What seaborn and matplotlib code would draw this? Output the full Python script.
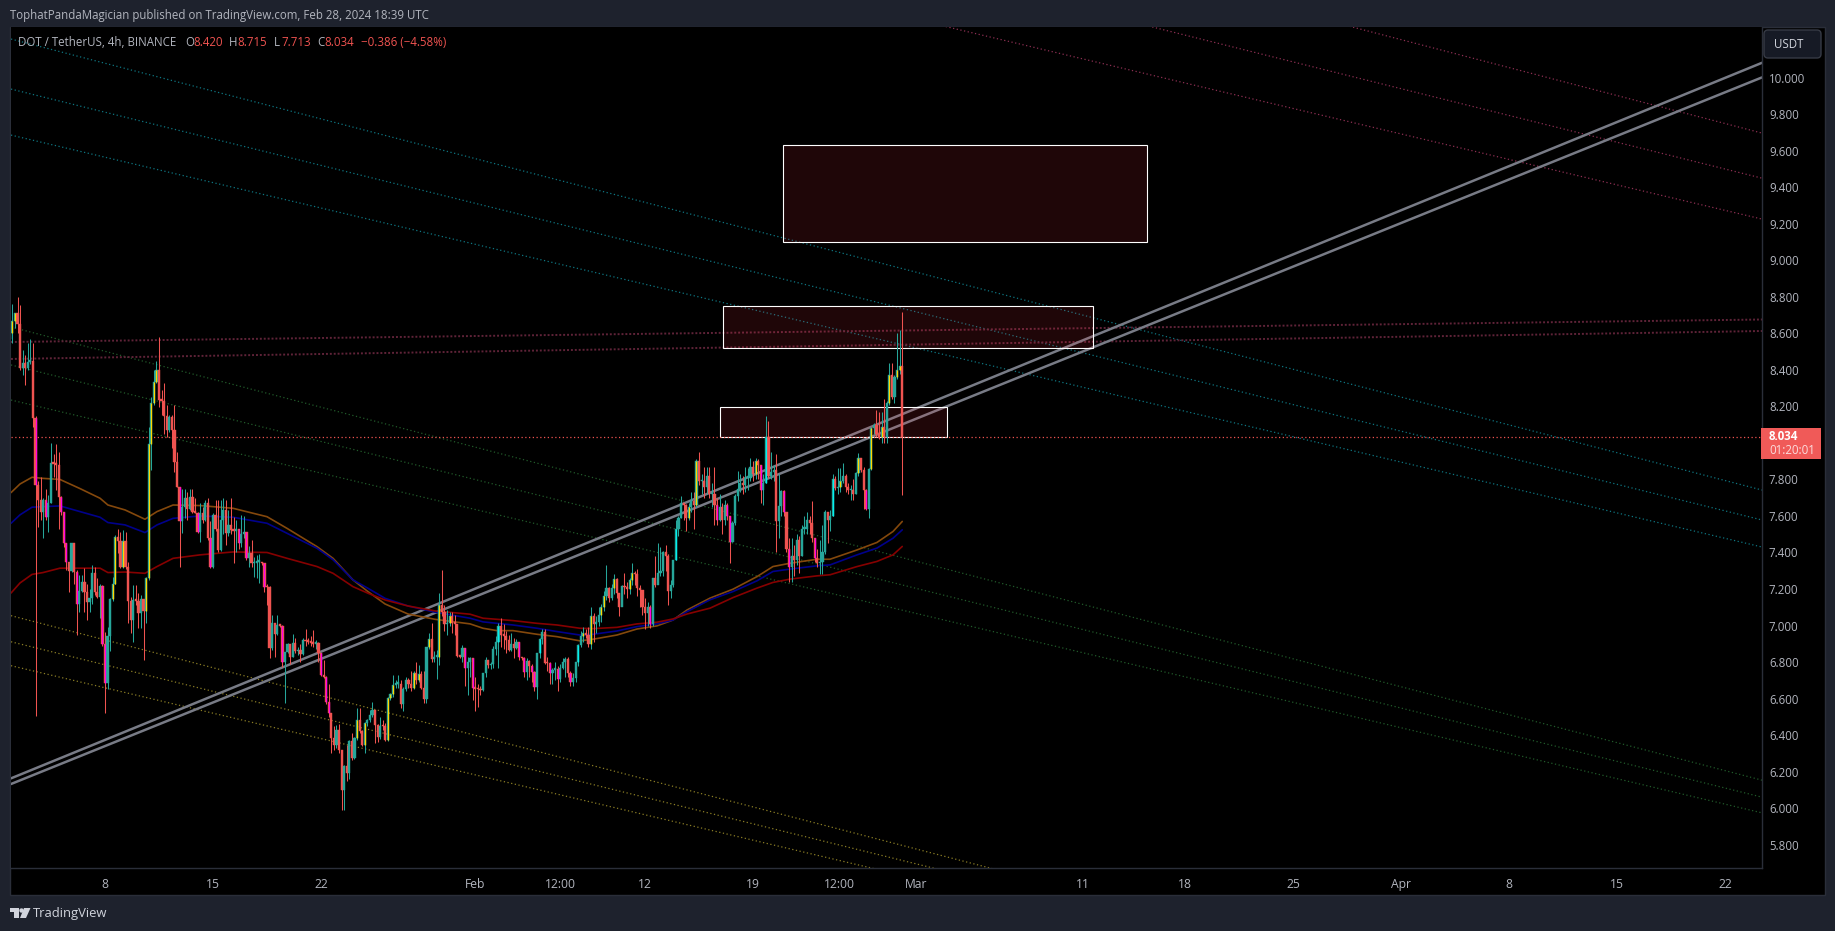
import numpy as np
import pandas as pd
import matplotlib
matplotlib.use('Agg')
import matplotlib.pyplot as plt
from matplotlib.patches import Rectangle, FancyBboxPatch, Polygon, Circle
from matplotlib.transforms import Affine2D
import seaborn as sns

# 4h candles, Jan 1 20:00 -> Feb 28 16:00 (opens follow previous close)
first_open = 8.57
closes = [
    8.60,8.67,8.71,8.65,8.41,8.44,8.41,8.445,8.45,8.135,
    7.77,7.69,7.62,7.69,7.595,7.67,7.89,7.885,7.88,7.705,
    7.62,7.45,7.35,7.30,7.45,7.295,7.12,7.19,7.24,7.185,
    7.13,7.15,7.29,7.185,7.155,7.216,6.90,6.687,6.94,7.143,
    7.23,7.487,7.465,7.32,7.463,7.32,7.136,7.03,7.14,7.136,
    7.07,7.143,7.08,7.26,7.994,8.216,8.335,8.40,8.235,8.23,
    8.147,8.07,8.144,8.07,7.897,7.76,7.57,7.651,7.696,7.64,
    7.706,7.624,7.618,7.514,7.615,7.58,7.67,7.477,7.32,7.605,
    7.53,7.414,7.58,7.633,7.505,7.55,7.523,7.52,7.53,7.45,
    7.50,7.51,7.368,7.395,7.34,7.345,7.35,7.35,7.34,7.213,
    7.21,6.875,7.016,6.954,7.003,7.0,6.80,6.857,6.9,6.83,
    6.907,6.86,6.865,6.845,6.92,6.915,6.91,6.905,6.90,6.907,
    6.85,6.73,6.72,6.583,6.52,6.383,6.343,6.43,6.32,6.10,
    6.233,6.195,6.368,6.273,6.383,6.48,6.423,6.347,6.465,6.48,
    6.51,6.535,6.455,6.39,6.45,6.447,6.374,6.602,6.624,6.675,
    6.68,6.68,6.57,6.65,6.70,6.68,6.66,6.74,6.70,6.735,
    6.66,6.596,6.88,6.927,6.815,6.83,6.83,7.113,7.076,7.007,
    7.016,7.05,7.016,7.01,6.835,6.83,6.875,6.766,6.80,6.82,
    6.657,6.655,6.65,6.645,6.739,6.81,6.784,6.79,6.87,6.91,
    7.0,6.95,6.945,6.92,6.866,6.90,6.876,6.91,6.826,6.82,
    6.744,6.806,6.78,6.745,6.666,6.848,6.925,6.967,6.797,6.793,
    6.739,6.757,6.76,6.706,6.77,6.80,6.815,6.74,6.693,6.71,
    6.80,6.894,6.94,6.96,6.95,6.90,7.05,7.01,7.02,7.058,
    7.104,7.162,7.208,7.15,7.204,7.253,7.18,7.104,7.218,7.21,
    7.20,7.25,7.286,7.28,7.204,7.195,7.10,7.07,7.10,7.007,
    7.259,7.22,7.29,7.30,7.40,7.38,7.19,7.22,7.36,7.53,
    7.59,7.67,7.66,7.59,7.65,7.68,7.66,7.90,7.79,7.79,
    7.757,7.82,7.72,7.72,7.66,7.58,7.65,7.58,7.66,7.60,
    7.46,7.56,7.71,7.745,7.78,7.77,7.81,7.81,7.87,7.83,
    7.90,7.88,7.74,7.78,8.03,7.82,7.84,7.85,7.57,7.655,
    7.735,7.62,7.42,7.32,7.38,7.36,7.47,7.38,7.53,7.53,
    7.58,7.56,7.48,7.37,7.34,7.35,7.40,7.62,7.58,7.60,
    7.80,7.752,7.76,7.79,7.82,7.76,7.74,7.74,7.72,7.835,
    7.92,7.85,7.74,7.64,7.855,8.08,8.10,8.05,8.03,8.09,
    8.03,8.22,8.37,8.25,8.36,8.40,8.42,8.034,
]
highs = [
    8.61,8.76,8.71,8.80,8.755,8.51,8.48,8.55,8.57,8.55,
    8.15,7.79,7.815,7.70,7.75,7.715,8.0,7.94,7.995,7.95,
    7.71,7.62,7.45,7.35,7.45,7.45,7.305,7.276,7.277,7.313,
    7.23,7.2,7.33,7.32,7.26,7.23,7.22,6.965,6.994,7.15,
    7.268,7.496,7.527,7.514,7.523,7.514,7.35,7.158,7.22,7.22,
    7.177,7.167,7.143,7.268,8.09,8.25,8.40,8.448,8.58,8.29,
    8.326,8.207,8.153,8.153,8.21,7.952,7.76,7.75,7.75,7.733,
    7.75,7.75,7.696,7.624,7.67,7.65,7.687,7.696,7.57,7.615,
    7.688,7.69,7.69,7.70,7.69,7.63,7.70,7.596,7.58,7.53,
    7.605,7.60,7.514,7.436,7.468,7.377,7.387,7.39,7.35,7.34,
    7.23,7.217,7.058,7.016,7.058,7.01,7.003,6.857,6.905,6.9,
    6.954,6.93,6.88,6.90,6.93,6.98,6.93,6.94,6.976,6.92,
    6.91,6.85,6.81,6.725,6.68,6.52,6.447,6.456,6.46,6.32,
    6.237,6.346,6.374,6.41,6.39,6.547,6.547,6.43,6.474,6.49,
    6.54,6.583,6.54,6.46,6.50,6.483,6.465,6.61,6.63,6.73,
    6.70,6.73,6.70,6.665,6.72,6.71,6.753,6.75,6.80,6.784,
    6.75,6.75,6.88,6.96,7.012,6.86,6.866,7.177,7.304,7.113,
    7.085,7.076,7.076,7.06,7.01,6.84,6.894,6.875,6.83,6.83,
    6.82,6.72,6.68,6.67,6.74,6.83,6.81,6.80,6.89,6.94,
    7.015,7.04,7.01,6.97,6.95,6.96,6.93,6.925,6.91,6.83,
    6.83,6.82,6.81,6.79,6.75,6.85,6.93,6.98,6.98,6.83,
    6.80,6.77,6.80,6.78,6.79,6.82,6.83,6.83,6.75,6.74,
    6.80,6.90,6.97,6.99,6.98,6.99,7.10,7.07,7.05,7.10,
    7.12,7.19,7.33,7.21,7.23,7.28,7.26,7.18,7.22,7.29,
    7.24,7.26,7.34,7.30,7.31,7.22,7.19,7.15,7.13,7.11,
    7.26,7.38,7.45,7.43,7.41,7.44,7.39,7.25,7.36,7.58,
    7.60,7.71,7.67,7.665,7.67,7.73,7.73,7.91,7.95,7.83,
    7.87,7.87,7.87,7.78,7.87,7.70,7.72,7.67,7.69,7.67,
    7.60,7.57,7.72,7.847,7.83,7.82,7.87,7.86,7.92,7.90,
    7.92,7.91,7.88,7.83,8.15,8.12,7.95,7.88,7.94,7.83,
    7.74,7.74,7.62,7.48,7.48,7.44,7.50,7.49,7.55,7.60,
    7.62,7.60,7.68,7.48,7.42,7.47,7.55,7.63,7.62,7.63,
    7.83,7.82,7.86,7.86,7.89,7.83,7.78,7.77,7.80,7.84,
    7.945,7.92,7.87,7.75,7.86,8.08,8.11,8.18,8.17,8.17,
    8.24,8.23,8.44,8.44,8.37,8.60,8.62,8.715,
]
lows = [
    8.46,8.55,8.63,8.60,8.40,8.37,8.32,8.40,8.435,8.09,
    6.505,7.54,7.58,7.48,7.58,7.51,7.67,7.815,7.74,7.53,
    7.605,7.43,7.305,7.185,7.295,7.23,6.95,7.076,7.185,7.076,
    7.03,7.076,7.12,7.167,7.15,7.04,6.89,6.52,6.65,6.86,
    7.136,7.23,7.395,7.313,7.313,7.308,7.016,6.957,6.91,7.11,
    6.985,6.985,6.81,7.012,7.25,7.85,8.207,8.326,8.198,8.153,
    8.05,8.034,8.06,7.97,7.842,7.757,7.32,7.505,7.587,7.58,
    7.633,7.615,7.615,7.505,7.46,7.56,7.57,7.468,7.313,7.313,
    7.52,7.40,7.41,7.50,7.44,7.49,7.50,7.344,7.40,7.42,
    7.43,7.48,7.36,7.32,7.32,7.267,7.26,7.235,7.33,7.186,
    7.113,6.82,6.866,6.83,6.95,6.99,6.775,6.578,6.85,6.79,
    6.83,6.85,6.84,6.80,6.84,6.89,6.90,6.89,6.885,6.87,
    6.80,6.725,6.71,6.57,6.50,6.30,6.32,6.33,6.30,5.987,
    5.987,6.15,6.16,6.265,6.27,6.375,6.41,6.34,6.30,6.45,
    6.47,6.50,6.355,6.36,6.38,6.43,6.365,6.37,6.59,6.61,
    6.66,6.66,6.55,6.534,6.64,6.66,6.64,6.655,6.68,6.69,
    6.65,6.575,6.575,6.87,6.80,6.80,6.708,6.784,7.05,6.97,
    6.95,7.0,6.96,6.95,6.83,6.82,6.80,6.67,6.62,6.72,
    6.59,6.534,6.555,6.62,6.64,6.72,6.77,6.76,6.77,6.84,
    6.77,6.88,6.87,6.85,6.86,6.86,6.82,6.87,6.81,6.81,
    6.72,6.70,6.72,6.69,6.64,6.60,6.82,6.90,6.79,6.75,
    6.68,6.68,6.70,6.64,6.69,6.76,6.72,6.72,6.67,6.67,
    6.69,6.78,6.88,6.91,6.93,6.88,6.87,6.91,6.96,7.0,
    7.02,7.08,7.14,7.13,7.14,7.17,7.15,7.05,7.11,7.17,
    7.15,7.17,7.22,7.22,7.16,7.10,7.06,6.98,7.0,6.985,
    7.0,7.21,7.27,7.27,7.27,7.30,7.115,7.15,7.21,7.36,
    7.49,7.59,7.58,7.52,7.58,7.62,7.53,7.65,7.77,7.72,
    7.70,7.72,7.70,7.65,7.55,7.55,7.57,7.50,7.55,7.58,
    7.345,7.46,7.55,7.68,7.73,7.72,7.73,7.74,7.79,7.79,
    7.80,7.80,7.67,7.66,7.78,7.81,7.80,7.79,7.40,7.48,
    7.60,7.60,7.40,7.24,7.24,7.27,7.33,7.29,7.38,7.50,
    7.50,7.50,7.46,7.35,7.32,7.28,7.28,7.39,7.45,7.52,
    7.60,7.74,7.72,7.73,7.78,7.73,7.72,7.69,7.69,7.72,
    7.82,7.84,7.64,7.63,7.59,7.85,8.05,8.03,8.02,8.0,
    8.0,8.0,8.21,8.24,8.22,8.35,8.38,7.713,
]
magenta_bars = [11,15,21,22,23,27,37,38,67,74,79,90,93,100,107,122,124,125,178,181,199,201,204,205,
                211,214,219,250,276,280,281,293,302,304,314,334]
yellow_bars = [2,3,41,42,45,54,55,56,57,58,136,139,148,149,150,158,160,164,168,172,224,227,231,232,
               236,242,243,265,268,291,324,331,336,340,343,346,347]
cyan_bars = [191,207,222,260,295,321]

# moving averages read at these day numbers (Jan 1 = 1)
ma_days = [1.91,2.49,3.27,3.98,5.08,6.38,7.68,8.19,9.30,10.59,11.37,12.41,14.16,16.30,18.50,19.80,
           21.74,22.78,24.07,25.04,26.15,27.64,29.39,31.66,32.50,33.41,34.44,36.0,37.29,38.78,39.63,
           41.18,42.48,43.77,44.81,45.72,47.21,48.70,50.26,51.29,52.39,54.14,54.99,56.74,58.03,59.07,59.67]
ma_orange = [7.728,7.775,7.812,7.806,7.80,7.75,7.697,7.66,7.633,7.582,7.624,7.66,7.657,7.642,7.596,7.532,
             7.432,7.368,7.25,7.186,7.118,7.063,7.034,7.009,6.985,6.972,6.972,6.952,6.939,6.916,6.925,
             6.948,6.981,6.998,7.03,7.085,7.15,7.199,7.268,7.323,7.341,7.363,7.363,7.414,7.455,7.515,7.57]
ma_blue = [7.56,7.606,7.648,7.651,7.655,7.624,7.593,7.564,7.551,7.509,7.551,7.587,7.60,7.593,7.56,7.505,
           7.423,7.36,7.25,7.204,7.149,7.107,7.073,7.04,7.02,7.012,7.003,6.985,6.967,6.948,6.952,
           6.97,6.994,7.009,7.03,7.076,7.141,7.186,7.245,7.296,7.309,7.327,7.332,7.387,7.424,7.478,7.524]
ma_red = [7.178,7.233,7.28,7.29,7.314,7.314,7.314,7.29,7.293,7.286,7.323,7.368,7.387,7.403,7.40,7.368,
          7.323,7.286,7.213,7.177,7.14,7.107,7.08,7.062,7.04,7.034,7.027,7.012,7.003,6.985,6.983,
          6.99,7.009,7.018,7.036,7.063,7.095,7.153,7.205,7.236,7.254,7.272,7.278,7.323,7.351,7.387,7.433]

# drawn lines: price at left edge, price at right edge
teal_left = [10.212,9.938,9.686]
teal_right = [7.742,7.578,7.43]
rose_left = [12.18,11.828,11.488]
rose_right = [9.697,9.45,9.226]
green_left = [8.635,8.427,8.235]
green_right = [6.153,6.06,5.974]
olive_left = [7.054,6.911,6.78]
olive_right = [4.582,4.558,4.525]
gray_left = [6.163,6.132]
gray_right = [10.082,10.002]
flat_left = [8.553,8.46]
flat_right = [8.676,8.613]

# zones: day start, day end, price low, price high
zone_x0 = [51.94,48.07,47.88]
zone_x1 = [75.53,72.03,62.59]
zone_lo = [9.10,8.518,8.032]
zone_hi = [9.631,8.748,8.198]

last_price = 8.034
# 8.000 sits under the price tag in the reference
price_ticks = [5.8,6.0,6.2,6.4,6.6,6.8,7.0,7.2,7.4,7.6,7.8,8.2,8.4,8.6,8.8,9.0,9.2,9.4,9.6,9.8,10.0]
date_ticks = [8,15,22,32,37.5,43,50,55.6,60.6,71.4,78,85,92,99,106,113]
date_labels = ['8','15','22','Feb','12:00','12','19','12:00','Mar','11','18','25','Apr','8','15','22']

W, H = 1835, 931
X0, X1 = 1.908, 115.39
Y0, Y1 = 5.672, 10.278
TEAL, RED = '#26a69a', '#ef5350'
GREY = '#b2b5be'
FONT = 'Open Sans'
FS = 8.3

sns.set_theme(style='dark')
plt.rcParams['font.family'] = [FONT, 'DejaVu Sans']

fig = plt.figure(figsize=(W / 100, H / 100), dpi=100, facecolor='#1e222d')
px = Affine2D().scale(1 / W, -1 / H).translate(0, 1) + fig.transFigure

fig.patches.append(Rectangle((10, 27), 1815, 868, transform=px, facecolor='#000000', edgecolor='#2a2e39',
                             lw=1, zorder=-1))
ax = fig.add_axes([11 / W, 1 - 868 / H, (1762 - 11) / W, (868 - 27) / H], facecolor='#000000')

# trend lines
def draw_lines(left, right, color, lw, style, z):
    for a, b in zip(left, right):
        sns.lineplot(x=[X0, X1], y=[a, b], color=color, lw=lw, linestyle=style, ax=ax, zorder=z,
                     estimator=None, sort=False, legend=False)

dot = (0, (1, 2))
draw_lines(teal_left, teal_right, '#0e7580', 0.9, dot, 2)
draw_lines(rose_left, rose_right, '#8c2f52', 0.9, dot, 2)
draw_lines(green_left, green_right, '#215a2a', 0.9, dot, 2)
draw_lines(olive_left, olive_right, '#8a7d25', 0.9, dot, 2)
draw_lines(flat_left, flat_right, '#5f2338', 1.4, (0, (1, 1)), 2)
draw_lines(gray_left, gray_right, '#787b86', 1.8, '-', 2)

# zones
for a, b, lo, hi in zip(zone_x0, zone_x1, zone_lo, zone_hi):
    ax.add_patch(Rectangle((a, lo), b - a, hi - lo, facecolor='#f23645', alpha=0.13, lw=0, zorder=3))
    ax.add_patch(Rectangle((a, lo), b - a, hi - lo, facecolor='none', edgecolor='#ffffff', lw=0.8, zorder=3))

# moving averages
for vals, col in [(ma_orange, '#84480c'), (ma_blue, '#00008b'), (ma_red, '#860000')]:
    sns.lineplot(x=ma_days, y=vals, color=col, lw=1.2, ax=ax, zorder=4, estimator=None, sort=False, legend=False)

# candles
bars = pd.DataFrame({'close': closes, 'high': highs, 'low': lows})
bars['open'] = bars['close'].shift(1).fillna(first_open)
bars['day'] = 1.833 + bars.index / 6
bars['col'] = np.where(bars['close'] >= bars['open'], TEAL, RED)

ax.vlines(bars['day'], bars['low'], bars['high'], colors=bars['col'], lw=0.75, zorder=5)
body_lo = bars[['open', 'close']].min(axis=1)
body_hi = bars[['open', 'close']].max(axis=1)
ax.bar(bars['day'], (body_hi - body_lo).clip(lower=0.008), bottom=body_lo, width=0.14,
       color=bars['col'], edgecolor=bars['col'], lw=0.3, zorder=6)
for idx, col in [(magenta_bars, '#ff00e6'), (yellow_bars, '#ffd600'), (cyan_bars, '#00f0f0')]:
    sel = np.array(idx) - 1
    ax.vlines(bars['day'].iloc[sel], body_lo.iloc[sel], body_hi.iloc[sel], colors=col, lw=0.9, zorder=7)

ax.axhline(last_price, color=RED, lw=0.9, linestyle=dot, zorder=4)

ax.set_xlim(X0, X1)
ax.set_ylim(Y0, Y1)
ax.grid(False)
ax.set_xlabel('')
ax.set_ylabel('')
ax.yaxis.tick_right()
ax.set_yticks(price_ticks)
ax.set_yticklabels([f'{p:.3f}' for p in price_ticks])
ax.set_xticks(date_ticks)
ax.set_xticklabels(date_labels)
ax.tick_params(axis='y', length=0, pad=5, labelsize=FS, labelcolor=GREY)
ax.tick_params(axis='x', length=0, pad=7, labelsize=FS + 0.4, labelcolor=GREY)
for side in ['top', 'left']:
    ax.spines[side].set_visible(False)
for side in ['right', 'bottom']:
    ax.spines[side].set_color('#2a2e39')
    ax.spines[side].set_linewidth(1)

# header + legend
def label(x, y, s, color=GREY, size=FS, **kw):
    fig.text(x / W, 1 - y / H, s, color=color, fontsize=size, va='center', ha=kw.pop('ha', 'left'), **kw)

label(10, 15, 'TophatPandaMagician published on TradingView.com, Feb 28, 2024 18:39 UTC')
label(18, 42, 'DOT / TetherUS, 4h, BINANCE')
for x, s in [(185, 'O'), (229, 'H'), (274, 'L'), (317, 'C')]:
    label(x, 42, s)
for x, s in [(193, '8.420'), (237, '8.715'), (281, '7.713'), (324, '8.034'), (361, '\u22120.386 (\u22124.58%)')]:
    label(x, 42, s, color=RED)

# price scale widgets
fig.patches.append(FancyBboxPatch((1766, 32), 53, 24, boxstyle='round,pad=2,rounding_size=4', transform=px,
                                  facecolor='#161a25', edgecolor='#363a45', lw=1))
label(1774, 44, 'USDT', color='#d1d4dc')
fig.patches.append(Rectangle((1761, 428), 60, 31, transform=px, facecolor='#f05a58', edgecolor='none'))
label(1769, 436, f'{last_price:.3f}', color='#ffffff', fontweight='bold')
label(1769, 451, '01:20:01', color='#fbdcdc')

# logo
for patch in [Polygon([(10, 908), (19, 908), (19, 918), (14, 918), (14, 912), (10, 912)]),
              Circle((21.5, 910.5), 2.2),
              Polygon([(24, 908), (30.5, 908), (26, 918), (20, 918)])]:
    patch.set_transform(px)
    patch.set_facecolor('#d1d4dc')
    patch.set_edgecolor('none')
    fig.patches.append(patch)
label(33, 913, 'TradingView', color='#d1d4dc', size=9.4)

fig.savefig('out.png', dpi=100, facecolor=fig.get_facecolor())
